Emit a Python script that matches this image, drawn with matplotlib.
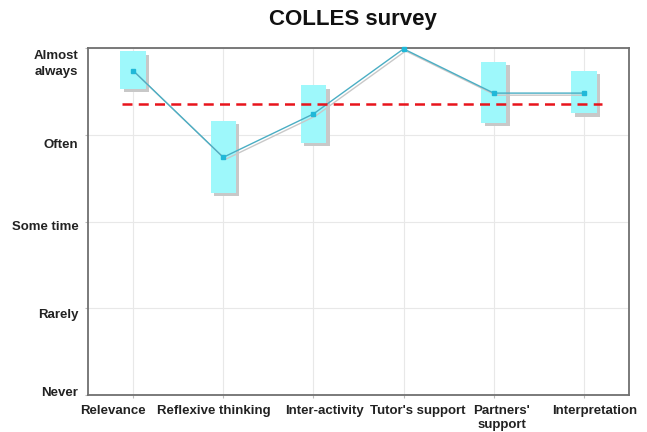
import matplotlib
matplotlib.use("Agg")
import matplotlib.pyplot as plt
from matplotlib.patches import Rectangle
from matplotlib.transforms import offset_copy, ScaledTranslation

categories = ["Relevance", "Reflexive thinking", "Inter-activity", "Tutor's support",
              "Partners'\nsupport", "Interpretation"]
means = [4.74, 3.74, 4.24, 4.99, 4.48, 4.48]
box_low = [4.53, 3.33, 3.91, 4.99, 4.14, 4.25]
box_high = [4.96, 4.16, 4.57, 4.99, 4.84, 4.74]
overall_mean = 4.36
levels = [1, 2, 3, 4, 5]
level_labels = ["Never", "Rarely", "Some time", "Often", "Almost\nalways"]

BOX = "#9ef8fb"
LINE = "#4aaec4"
SHADOW = "#c8c8c8"

fig = plt.figure(figsize=(6.47, 4.32), dpi=100)
ax = fig.add_axes([88 / 647, 1 - 395 / 432, 541 / 647, 347 / 432])

xs = list(range(len(categories)))
shadow_tf = offset_copy(ax.transData, fig=fig, x=2.5, y=-2.5, units="points")
line_shadow_tf = offset_copy(ax.transData, fig=fig, x=1.5, y=-1.5, units="points")
w = 0.28
for x, lo, hi in zip(xs, box_low, box_high):
    if hi - lo <= 0:
        continue
    ax.add_patch(Rectangle((x - w / 2, lo), w, hi - lo, facecolor=SHADOW,
                           edgecolor="none", transform=shadow_tf, zorder=2))
    ax.add_patch(Rectangle((x - w / 2, lo), w, hi - lo, facecolor=BOX,
                           edgecolor="none", zorder=3))

ax.plot(xs, means, color=SHADOW, linewidth=1, transform=line_shadow_tf, zorder=3.5)
ax.plot(xs, means, color=LINE, linewidth=1, marker="s", markersize=3,
        markerfacecolor="#20b8d8", markeredgecolor="#20b8d8", zorder=4, clip_on=False)
ax.plot([-0.12, 5.2], [overall_mean, overall_mean], color="#e8141c", linewidth=1.8,
        linestyle=(0, (4, 2.5)), zorder=5)

ax.set_xlim(-0.5, 5.5)
ax.set_ylim(1, 5)
ax.set_xticks(xs)
ax.set_xticklabels(categories, fontsize=9.5, fontweight="bold", fontfamily="Liberation Sans",
                   color="#222222", linespacing=1.2)
ax.set_yticks(levels)
ax.set_yticklabels(level_labels, fontsize=9.5, fontweight="bold", fontfamily="Liberation Sans",
                   color="#222222", ha="right", va="center", linespacing=1.4)
ax.tick_params(axis="both", length=2, color="#bbbbbb")
ax.tick_params(axis="y", pad=5)
ax.tick_params(axis="x", pad=5)

# the labels in the original sit a little off their ticks
x_shift = [-20, -9, 11, 14, 8, 11]
for lbl, dx in zip(ax.get_xticklabels(), x_shift):
    lbl.set_transform(lbl.get_transform() + ScaledTranslation(dx / 100, 0, fig.dpi_scale_trans))
y_shift = [-2, 7, 6, 10, 16]
for lbl, dy in zip(ax.get_yticklabels(), y_shift):
    lbl.set_transform(lbl.get_transform() + ScaledTranslation(0, -dy / 100, fig.dpi_scale_trans))

ax.grid(color="#e8e8e8", linewidth=0.8, zorder=0)
for spine in ax.spines.values():
    spine.set_color("#707070")
    spine.set_linewidth(1.3)

fig.text(0.545, 0.955, "COLLES survey", ha="center", va="center", fontsize=16,
         fontweight="bold", fontfamily="Liberation Sans", color="#111111")

fig.savefig("out.png", dpi=100)
